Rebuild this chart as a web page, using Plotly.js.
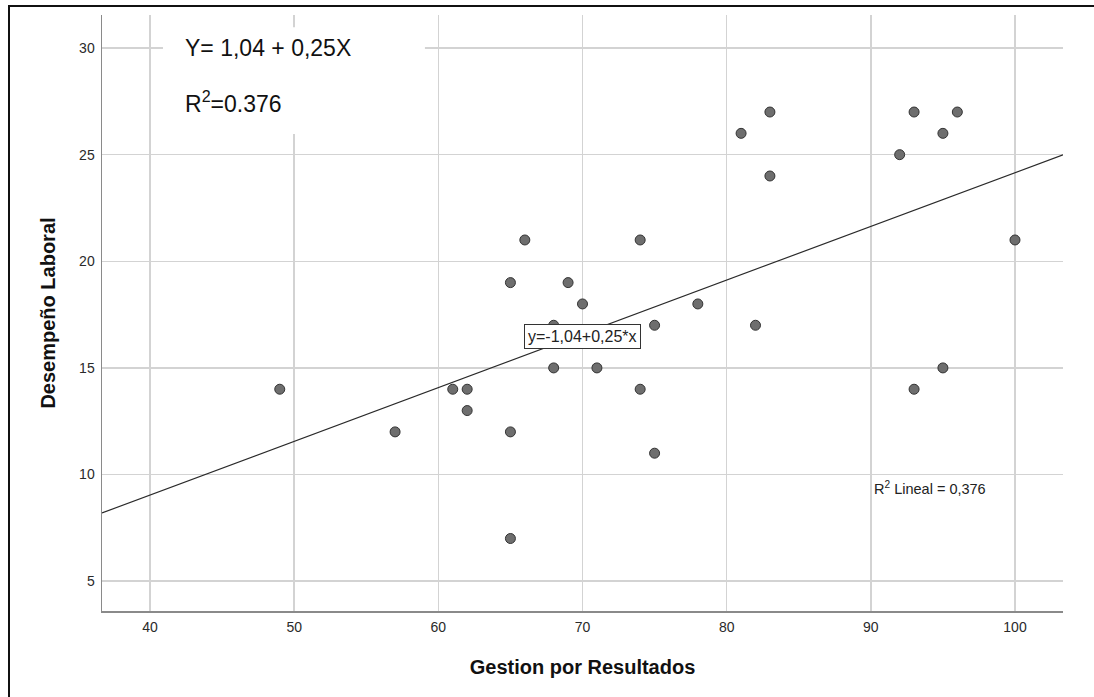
<!DOCTYPE html>
<html>
<head>
<meta charset="utf-8">
<script src="https://cdn.plot.ly/plotly-3.0.1.min.js"></script>
<style>
  html, body { margin: 0; padding: 0; background: #fff; overflow: hidden; }
  #frame { position: absolute; left: 8px; top: 5px; width: 1100px; height: 710px; border: 2px solid #111; box-sizing: border-box; pointer-events: none; z-index: 5; }
  #chart { position: absolute; left: 0; top: 0; width: 1094px; height: 697px; }
</style>
</head>
<body>
<div id="chart"></div>
<div id="frame"></div>
<script>
// Gestion por Resultados (x) vs Desempeño Laboral (y)
const gestion = [49, 57, 61, 62, 62, 65, 65, 65, 66, 68, 68, 69, 70, 71, 74, 74, 75, 75, 78, 81, 82, 83, 83, 92, 93, 93, 95, 95, 96, 100];
const desempeno = [14, 12, 14, 14, 13, 12, 7, 19, 21, 17, 15, 19, 18, 15, 21, 14, 17, 11, 18, 26, 17, 27, 24, 25, 27, 14, 26, 15, 27, 21];

const xRange = [36.67, 103.33];
const yRange = [3.6, 31.55];

const xTicks = [40, 50, 60, 70, 80, 90, 100];
const yTicks = [5, 10, 15, 20, 25, 30];

// Least-squares fit from the data (gives y = -1,04 + 0,25x, R² = 0,376)
const n = gestion.length;
const mx = gestion.reduce((a, b) => a + b, 0) / n;
const my = desempeno.reduce((a, b) => a + b, 0) / n;
let sxx = 0, sxy = 0;
for (let i = 0; i < n; i++) { sxx += (gestion[i] - mx) ** 2; sxy += (gestion[i] - mx) * (desempeno[i] - my); }
const slope = sxy / sxx;
const intercept = my - slope * mx;

const fitX = [xRange[0], xRange[1]];
const fitY = fitX.map(v => intercept + slope * v);

const traces = [
  {
    x: fitX, y: fitY, mode: 'lines', type: 'scatter',
    line: { color: '#2a2a2a', width: 1.2 },
    hoverinfo: 'skip', showlegend: false
  },
  {
    x: gestion, y: desempeno, mode: 'markers', type: 'scatter',
    marker: { size: 10, color: '#6e6e6e', line: { color: '#333333', width: 1 } },
    showlegend: false
  }
];

const FONT = 'Liberation Sans, Arial, sans-serif';

const layout = {
  width: 1094, height: 697,
  margin: { l: 102, r: 31, t: 15, b: 86 },
  paper_bgcolor: '#ffffff', plot_bgcolor: '#ffffff',
  font: { family: FONT, color: '#222' },
  showlegend: false,
  xaxis: {
    range: xRange, tickvals: xTicks, ticktext: xTicks.map(String),
    showgrid: true, gridcolor: '#d3d3d3', gridwidth: 1.5,
    zeroline: false, showline: true, linecolor: '#8a8a8a', linewidth: 1.5,
    ticks: '', ticklabelstandoff: 3, tickfont: { size: 14, color: '#2a2a2a' },
    title: { text: 'Gestion por Resultados', font: { size: 20, color: '#111', family: FONT, weight: 'bold' }, standoff: 25 },
    automargin: false
  },
  yaxis: {
    range: yRange, tickvals: yTicks, ticktext: yTicks.map(String),
    showgrid: true, gridcolor: '#d3d3d3', gridwidth: 1.5,
    zeroline: false, showline: true, linecolor: '#8a8a8a', linewidth: 1.5,
    ticks: '', ticklabelstandoff: 3, tickfont: { size: 14, color: '#2a2a2a' },
    title: { text: 'Desempeño Laboral', font: { size: 20, color: '#111', family: FONT, weight: 'bold' }, standoff: 18 },
    automargin: false
  },
  shapes: [
    { type: 'rect', xref: 'x', yref: 'y', x0: 40.9, x1: 59.07, y0: 25.97, y1: 30.98,
      fillcolor: '#ffffff', line: { width: 0 }, layer: 'between' }
  ],
  annotations: [
    { xref: 'x', yref: 'y', x: 42.3, y: 30, xanchor: 'left', yanchor: 'middle',
      text: 'Y= 1,04 + 0,25X', showarrow: false,
      font: { size: 23, color: '#111', family: FONT } },
    { xref: 'x', yref: 'y', x: 42.3, y: 27.45, xanchor: 'left', yanchor: 'middle',
      text: 'R<sup>2</sup>=0.376', showarrow: false,
      font: { size: 23, color: '#111', family: FONT } },
    { xref: 'x', yref: 'y', x: 70.03, y: 16.47, xanchor: 'center', yanchor: 'middle',
      text: 'y=-1,04+0,25*x', showarrow: false,
      bgcolor: '#ffffff', bordercolor: '#333333', borderwidth: 1, borderpad: 3,
      font: { size: 16, color: '#222', family: FONT } },
    { xref: 'x', yref: 'y', x: 90.1, y: 9.35, xanchor: 'left', yanchor: 'middle',
      text: 'R<sup>2</sup> Lineal = 0,376', showarrow: false,
      font: { size: 14.5, color: '#222', family: FONT } }
  ]
};

Plotly.newPlot('chart', traces, layout, { staticPlot: true, displayModeBar: false });
</script>
</body>
</html>
